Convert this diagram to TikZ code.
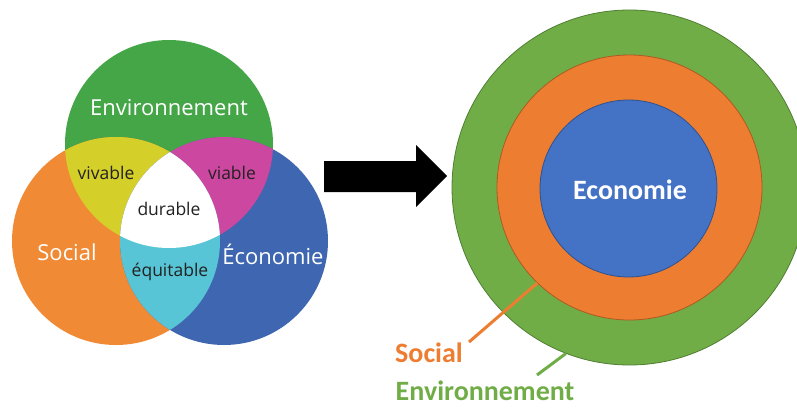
\documentclass[tikz,border=0pt]{standalone}
\usepackage{fontspec}
\newfontfamily\osans{Open Sans}
\newfontfamily\carl{Carlito}
\definecolor{vgreen}{HTML}{44A647}
\definecolor{vorange}{HTML}{F18A35}
\definecolor{vblue}{HTML}{3F67B1}
\definecolor{vyellow}{HTML}{D5CF2A}
\definecolor{vmagenta}{HTML}{CC479F}
\definecolor{vcyan}{HTML}{57C5D6}
\definecolor{vtext}{HTML}{222222}
\definecolor{ogreen}{HTML}{70AD47}
\definecolor{ogreenD}{HTML}{507E32}
\definecolor{oorange}{HTML}{ED7D31}
\definecolor{oorangeD}{HTML}{AE5A21}
\definecolor{oblue}{HTML}{4472C4}
\definecolor{oblueD}{HTML}{2F528F}
\tikzset{
  bigw/.style={text=white, font=\osans\fontsize{22}{26}\selectfont, inner sep=0pt},
  smallt/.style={text=vtext, font=\osans\fontsize{17.5}{21}\selectfont, inner sep=0pt},
  ring/.style={circle, inner sep=0pt, line width=0.8pt},
  rlabel/.style={font=\carl\bfseries\fontsize{28}{32}\selectfont, inner sep=0pt},
  pointer/.style={line width=3pt}
}
\begin{document}
\begin{tikzpicture}[x=1pt,y=-1pt]
\useasboundingbox (0,0) rectangle (797,407);
\clip (0,0) rectangle (797,407);
\fill[white] (0,0) rectangle (797,407);
% ---------- Venn diagram ----------
\coordinate (cE) at (169,144);
\coordinate (cS) at (116,241);
\coordinate (cB) at (224,241);
\fill[vgreen] (cE) circle[radius=104pt];
\fill[vorange] (cS) circle[radius=104pt];
\fill[vblue] (cB) circle[radius=104pt];
\begin{scope}
  \clip (cE) circle[radius=104pt];
  \fill[vyellow] (cS) circle[radius=104pt];
\end{scope}
\begin{scope}
  \clip (cE) circle[radius=104pt];
  \fill[vmagenta] (cB) circle[radius=104pt];
\end{scope}
\begin{scope}
  \clip (cS) circle[radius=104pt];
  \fill[vcyan] (cB) circle[radius=104pt];
\end{scope}
\begin{scope}
  \clip (cE) circle[radius=104pt];
  \clip (cS) circle[radius=104pt];
  \fill[white] (cB) circle[radius=104pt];
\end{scope}
\node[bigw] (tEnv) at (169,108) {Environnement};
\node[bigw] (tSoc) at (67,252) {Social};
\node[bigw] (tEco) at (273,254) {Économie};
\node[smallt] (tviv) at (106,173) {vivable};
\node[smallt] (tvia) at (232,173) {viable};
\node[smallt] (tdur) at (169,209) {durable};
\node[smallt] (tequ) at (170,272) {équitable};
% ---------- arrow ----------
\fill[black] (324,161) -- (416,161) -- (416,145) -- (447,176) -- (416,207)
  -- (416,192) -- (324,192) -- cycle;
% ---------- concentric circles ----------
\node[ring, fill=ogreen, draw=ogreenD, minimum size=355pt] (outer) at (629.5,187.5) {};
\node[ring, fill=oorange, draw=oorangeD, minimum size=265pt] (mid) at (629.5,187.5) {};
\node[ring, fill=oblue, draw=oblueD, minimum size=177pt] (inner) at (628.5,188.5) {};
\node[rlabel, text=white] (tEco2) at (630,190) {Economie};
\node[rlabel, text=oorange, anchor=base] (tSoc2) at (429,362) {Social};
\node[rlabel, text=ogreen, anchor=base, text depth=0pt] (tEnv2) at (485,400.5) {Environnement};
\coordinate (pSoc) at (469,342);
\coordinate (pEnv) at (537,375);
\draw[pointer, oorange] (mid.226) -- (pSoc);
\draw[pointer, ogreen] (outer.249) -- (pEnv);
\end{tikzpicture}
\end{document}
